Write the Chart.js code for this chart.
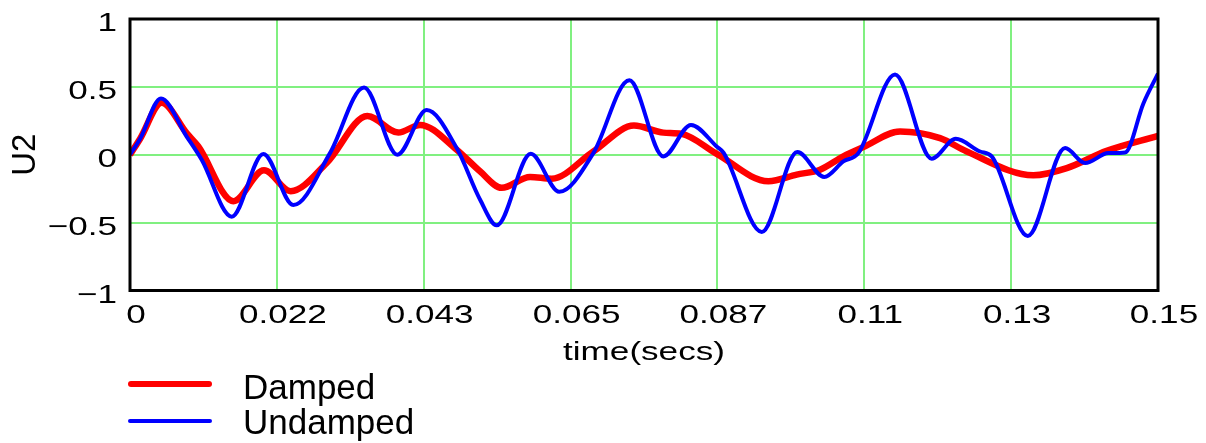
<!DOCTYPE html>
<html>
<head>
<meta charset="utf-8">
<script src="https://cdn.jsdelivr.net/npm/chart.js@4.4.1/dist/chart.umd.min.js"></script>
<style>
  body { margin: 0; background: #fff; }
  #wrap { position: relative; width: 1206px; height: 443px; }
  .lg-line { position: absolute; left: 128px; width: 84px; border-radius: 3px; }
  .lg-text { position: absolute; left: 243px; font: 35px 'Liberation Sans', Arial, sans-serif; line-height: 35px; color: #000; white-space: nowrap; }
</style>
</head>
<body>
<div id="wrap">
  <canvas id="u2Chart" width="1206" height="443"></canvas>
  <div class="lg-line" style="top:381px;height:6px;background:#ff0000;"></div>
  <div class="lg-text" style="top:369px;">Damped</div>
  <div class="lg-line" style="top:419px;height:4px;background:#0000ff;"></div>
  <div class="lg-text" style="top:404px;">Undamped</div>
</div>
<script>
// time axis (secs) and tick labels
const xMin = 0;
const xMax = 0.15;
const xTickLabels = ['0', '0.022', '0.043', '0.065', '0.087', '0.11', '0.13', '0.15'];
const yTickValues = [-1, -0.5, 0, 0.5, 1];
const yTickLabels = ['\u22121', '\u22120.5', '0', '0.5', '1'];

// Damped response
const dampedT = [0, 0.0015, 0.00462, 0.00827, 0.00997, 0.01508, 0.01955, 0.02345, 0.0287, 0.03463,
  0.03915, 0.04232, 0.04767, 0.05107, 0.05424, 0.05837, 0.06153, 0.06761, 0.07354, 0.07782,
  0.0805, 0.08561, 0.09315, 0.09728, 0.10069, 0.10409, 0.107, 0.11236, 0.1182, 0.12209,
  0.13181, 0.13669, 0.14252, 0.15];
const dampedU = [0, 0.12, 0.383, 0.159, 0.061, -0.342, -0.115, -0.268, -0.061, 0.285,
  0.163, 0.22, 0.037, -0.122, -0.244, -0.163, -0.176, 0.024, 0.215, 0.163,
  0.154, 0.007, -0.195, -0.146, -0.11, -0.012, 0.056, 0.171, 0.122, 0.024,
  -0.151, -0.098, 0.029, 0.139];

// Undamped response
const undampedT = [0, 0.0015, 0.00452, 0.00827, 0.01046, 0.01484, 0.01946, 0.02383, 0.02918, 0.03415,
  0.03901, 0.04329, 0.04767, 0.05107, 0.05351, 0.05847, 0.06265, 0.06761, 0.07286, 0.07782,
  0.08186, 0.08561, 0.0866, 0.09218, 0.09737, 0.1013, 0.10409, 0.10628, 0.11163, 0.11698,
  0.12049, 0.12403, 0.12574, 0.131, 0.13644, 0.13936, 0.14276, 0.1452, 0.14787, 0.15];
const undampedU = [0, 0.12, 0.415, 0.134, -0.037, -0.456, 0.005, -0.371, 0.012, 0.495,
  0, 0.329, 0.049, -0.33, -0.52, 0.007, -0.273, 0.012, 0.549, -0.012,
  0.22, 0.061, 0.015, -0.569, 0.02, -0.163, -0.049, 0.012, 0.591, -0.029,
  0.117, 0.024, -0.012, -0.598, 0.049, -0.061, 0.012, 0.017, 0.378, 0.598];

const xTickValues = xTickLabels.map((_, i) => xMin + i * (xMax - xMin) / (xTickLabels.length - 1));
const gridGreen = '#80f080';
const textFont = "26px 'Liberation Sans', Arial, sans-serif";
const stretch = 1.35;

const toPoints = (ts, us) => ts.map((t, i) => ({ x: t, y: us[i] }));

const axisText = {
  id: 'axisText',
  afterDatasetsDraw(chart) {
    const { ctx, chartArea } = chart;
    ctx.save();
    ctx.strokeStyle = '#000';
    ctx.lineWidth = 3;
    ctx.strokeRect(chartArea.left, chartArea.top, chartArea.right - chartArea.left, chartArea.bottom - chartArea.top);
    ctx.restore();
  },
  afterDraw(chart) {
    const { ctx, chartArea, scales } = chart;
    ctx.save();
    ctx.fillStyle = '#000';
    ctx.font = textFont;
    ctx.textBaseline = 'alphabetic';
    ctx.textAlign = 'center';
    xTickValues.forEach((v, i) => {
      ctx.save();
      ctx.translate(scales.x.getPixelForValue(v) + 6, chartArea.bottom + 32);
      ctx.scale(stretch, 1);
      ctx.fillText(xTickLabels[i], 0, 0);
      ctx.restore();
    });
    ctx.textAlign = 'right';
    yTickValues.forEach((v, i) => {
      ctx.save();
      ctx.translate(chartArea.left - 13, scales.y.getPixelForValue(v) + 12);
      ctx.scale(stretch, 1);
      ctx.fillText(yTickLabels[i], 0, 0);
      ctx.restore();
    });
    ctx.textAlign = 'center';
    ctx.save();
    ctx.translate((chartArea.left + chartArea.right) / 2, chartArea.bottom + 69);
    ctx.scale(stretch, 1);
    ctx.fillText('time(secs)', 0, 0);
    ctx.restore();
    ctx.save();
    ctx.translate(35, (chartArea.top + chartArea.bottom) / 2);
    ctx.rotate(-Math.PI / 2);
    ctx.font = "33px 'Liberation Sans', Arial, sans-serif";
    ctx.fillText('U2', 0, 0);
    ctx.restore();
    ctx.restore();
  }
};

new Chart(document.getElementById('u2Chart'), {
  type: 'line',
  data: {
    datasets: [{
      label: 'Damped',
      data: toPoints(dampedT, dampedU),
      borderColor: '#ff0000',
      borderWidth: 6.5,
      pointRadius: 0,
      cubicInterpolationMode: 'monotone',
      order: 2,
    }, {
      label: 'Undamped',
      data: toPoints(undampedT, undampedU),
      borderColor: '#0000ff',
      borderWidth: 4,
      pointRadius: 0,
      cubicInterpolationMode: 'monotone',
      order: 1,
    }]
  },
  options: {
    responsive: false,
    animation: false,
    layout: { padding: { left: 0, top: 19, right: 48, bottom: 132.5 } },
    plugins: { legend: { display: false }, tooltip: { enabled: false } },
    scales: {
      x: {
        type: 'linear',
        min: xMin,
        max: xMax,
        afterBuildTicks: s => { s.ticks = xTickValues.map(v => ({ value: v })); },
        afterFit: s => { s.height = 20; },
        ticks: { display: false },
        border: { display: false },
        grid: { color: gridGreen, lineWidth: 2, drawTicks: false }
      },
      y: {
        min: -1,
        max: 1,
        afterBuildTicks: s => { s.ticks = yTickValues.map(v => ({ value: v })); },
        afterFit: s => { s.width = 130; },
        ticks: { display: false },
        border: { display: false },
        grid: { color: gridGreen, lineWidth: 2, drawTicks: false }
      }
    }
  },
  plugins: [axisText]
});
</script>
</body>
</html>
